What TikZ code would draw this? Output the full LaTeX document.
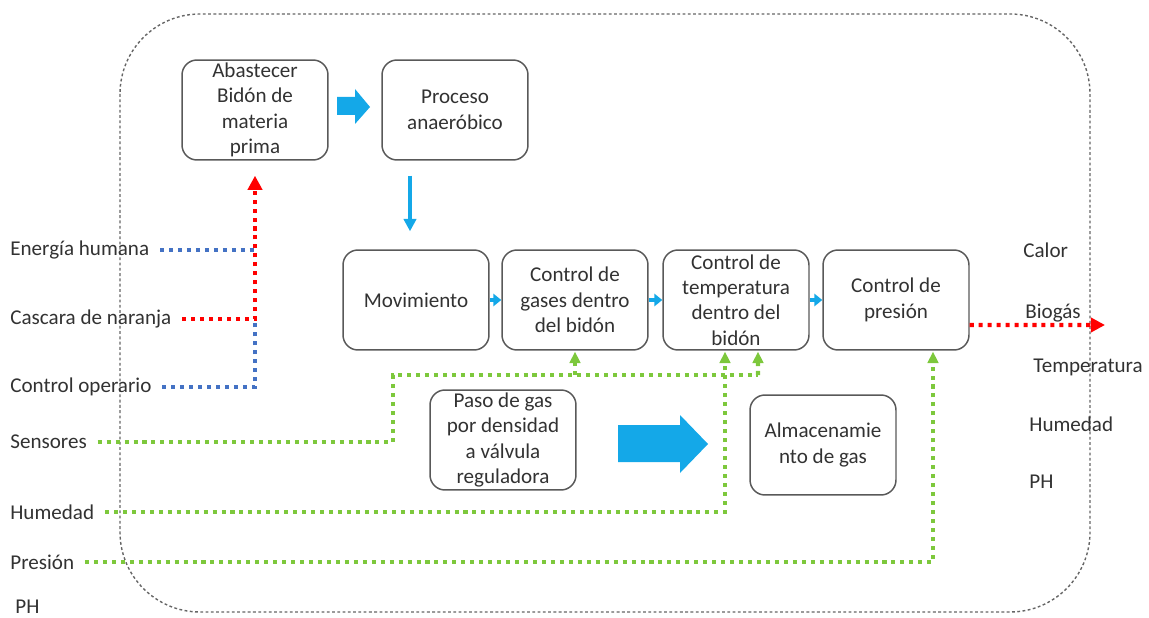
\documentclass[tikz,border=0pt]{standalone}
\usepackage{fontspec}
\setmainfont{Carlito}
\usetikzlibrary{arrows.meta}
\definecolor{flowblue}{RGB}{20, 168, 232}
\definecolor{linkblue}{RGB}{68, 114, 196}
\definecolor{linkred}{RGB}{255, 0, 0}
\definecolor{linkgreen}{RGB}{125, 200, 60}
\definecolor{textgray}{RGB}{50, 50, 50}

\begin{document}
\begin{tikzpicture}[
    x=0.02cm, y=-0.02cm,
    font=\fontsize{12}{14.5}\selectfont, text=textgray,
    box/.style={rectangle, draw=gray!70!black, line width=0.85pt, rounded corners=0.3cm, minimum width=2.92cm, minimum height=2cm, align=center, inner sep=1pt},
    lbl/.style={anchor=west, inner sep=0pt},
    frame/.style={draw=gray!80!black, line width=0.8pt, dash pattern=on 1.6pt off 1.4pt, rounded corners=1.6cm},
    dots/.style={line width=2.3pt, dash pattern=on 2.3pt off 2.8pt, shorten <=6pt},
    bluedots/.style={dots, draw=linkblue},
    reddots/.style={dots, draw=linkred, -{Triangle[length=8pt, width=8pt]}},
    greendots/.style={dots, draw=linkgreen},
    greenarr/.style={-{Triangle[length=6.5pt, width=6pt]}, shorten >=0.5pt},
    smallarr/.style={-{Triangle[length=4.5pt, width=7pt]}, draw=flowblue, fill=flowblue, line width=2.2pt},
    downarr/.style={-{Triangle[length=7pt, width=7pt]}, draw=flowblue, line width=1.8pt},
    block/.style={fill=flowblue}
]
    \useasboundingbox (0,0) rectangle (1149,618);
    \draw[frame] (120,14) rectangle (1090,612);

    % process boxes
    \node[box] (abast)   at (255, 110) {Abastecer\\Bidón de\\materia\\prima};
    \node[box] (proceso) at (455, 110) {Proceso\\anaeróbico};
    \node[box] (movim)   at (416, 300) {Movimiento};
    \node[box] (gases)   at (575, 300) {Control de\\gases dentro\\del bidón};
    \node[box] (temper)  at (736, 300) {Control de\\temperatura\\dentro del\\bidón};
    \node[box] (presion) at (896, 300) {Control de\\presión};
    \node[box] (paso)    at (503, 440) {Paso de gas\\por densidad\\a válvula\\reguladora};
    \node[box] (almac)   at (823, 445) {Almacenamie\\nto de gas};

    % inputs
    \node[lbl] (energia)  at (10, 250) {Energía humana};
    \node[lbl] (cascara)  at (10, 319) {Cascara de naranja};
    \node[lbl] (operario) at (10, 387) {Control operario};
    \node[lbl] (sensores) at (10, 442) {Sensores};
    \node[lbl] (humedad)  at (10, 512) {Humedad};
    \node[lbl] (lpresion) at (10, 562) {Presión};
    \node[lbl] (lph)      at (15, 607) {PH};

    % outputs
    \node[lbl] (calor)   at (1023, 250) {Calor};
    \node[lbl] (biogas)  at (1025, 313) {Biogás};
    \node[lbl] (rtemp)   at (1033, 367) {Temperatura};
    \node[lbl] (rhum)    at (1029, 424) {Humedad};
    \node[lbl] (rph)     at (1029, 482) {PH};

    % main flow
    \fill[block] (337,97) -- (355,97) -- (355,89) -- (370,107) -- (355,124) -- (355,115) -- (337,115) -- cycle;
    \fill[block] (618,425) -- (680,425) -- (680,415) -- (708,444) -- (680,473) -- (680,462) -- (618,462) -- cycle;
    \draw[downarr, shorten <=0.3cm, shorten >=0.36cm] (proceso.south -| 410,0) -- (movim.north -| 410,0);
    \draw[smallarr] (movim) -- (gases);
    \draw[smallarr] (gases) -- (temper);
    \draw[smallarr] (temper) -- (presion);

    % raw material lines
    \draw[bluedots] (energia.east) -- (energia.east -| abast.south);
    \draw[bluedots] (operario.east) -- (operario.east -| abast.south) -- ([yshift=-0.06cm]cascara.east -| abast.south);
    \draw[reddots, shorten >=0.3cm] (cascara.east) -- (cascara.east -| abast.south) -- (abast.south);

    % sensor lines
    \coordinate (sbend)  at (393, 375);
    \coordinate (sright) at (758, 375);
    \draw[greendots] (sensores.east) -| (sbend) -- (sright);
    \draw[greendots, greenarr, shorten <=0pt] (sright) -- ([xshift=0.44cm]temper.south);
    \draw[greendots, greenarr, shorten <=0pt] (sbend -| gases.south) -- (gases.south);
    \draw[greendots, greenarr] (humedad.east) -| ([xshift=-0.22cm]temper.south);
    \draw[greendots, greenarr] (lpresion.east) -| ([xshift=0.74cm]presion.south);

    % biogas out
    \draw[reddots, shorten <=0pt] ([yshift=-0.5cm]presion.east) -- (1105, 325);
\end{tikzpicture}
\end{document}
